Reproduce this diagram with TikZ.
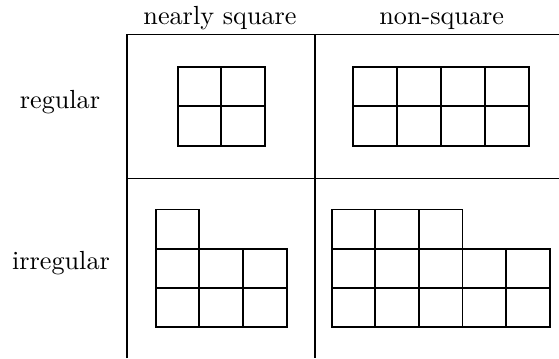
\documentclass[tikz,border=0pt]{standalone}
\begin{document}
\begin{tikzpicture}[x=0.3817pt,y=-0.3817pt,
  frame/.style={line width=0.5pt},
  cell/.style={line width=0.75pt},
  lab/.style={anchor=base,inner sep=0pt,font=\fontsize{10}{12}\selectfont}]
\useasboundingbox (0,0) rectangle (559,358);
% table frame
\draw[frame] (127,358) -- (127,34.7) -- (559,34.7);
\draw[frame] (315,34.7) -- (315,358);
\draw[frame] (127,178.7) -- (559,178.7);
% labels
\node[lab] (ns) at (220,24) {nearly square};
\node[lab] (nsq) at (441.7,24) {non-square};
\node[lab] (reg) at (60,108.3) {regular};
\node[lab] (irr) at (61,269.3) {irregular};
% regular, nearly square
\begin{scope}[shift={(177.7,66.7)},x=16.68pt,y=-15.07pt]
  \foreach \i in {0,1} \foreach \j in {0,1} \draw[cell] (\i,\j) rectangle ++(1,1);
\end{scope}
% regular, non-square
\begin{scope}[shift={(353.3,66.7)},x=16.76pt,y=-15.07pt]
  \foreach \i in {0,...,3} \foreach \j in {0,1} \draw[cell] (\i,\j) rectangle ++(1,1);
\end{scope}
% irregular, nearly square
\begin{scope}[shift={(155.7,209.5)},x=16.68pt,y=-15.0pt]
  \draw[cell] (0,0) rectangle ++(1,1);
  \foreach \i in {0,1,2} \foreach \j in {1,2} \draw[cell] (\i,\j) rectangle ++(1,1);
\end{scope}
% irregular, non-square
\begin{scope}[shift={(331.7,209.5)},x=16.64pt,y=-15.0pt]
  \foreach \i in {0,1,2} \draw[cell] (\i,0) rectangle ++(1,1);
  \foreach \i in {0,...,4} \foreach \j in {1,2} \draw[cell] (\i,\j) rectangle ++(1,1);
\end{scope}
\end{tikzpicture}
\end{document}
